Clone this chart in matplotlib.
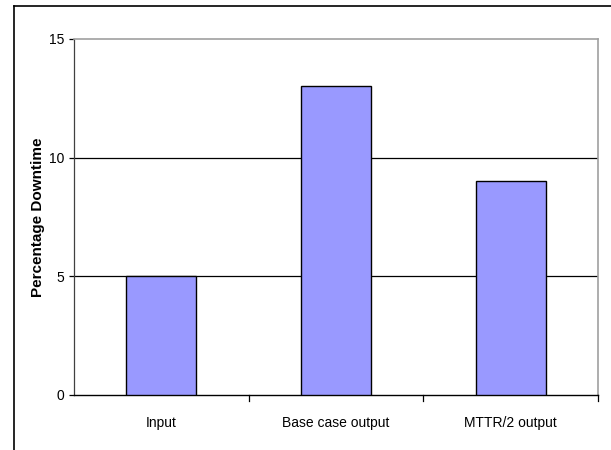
import matplotlib
matplotlib.use("Agg")
import matplotlib.pyplot as plt
from matplotlib.lines import Line2D

categories = ["Input", "Base case output", "MTTR/2 output"]
downtime = [5, 13, 9]
y_ticks = [0, 5, 10, 15]

plt.rcParams["font.family"] = ["Liberation Sans", "DejaVu Sans"]

fig = plt.figure(figsize=(6.11, 4.5), dpi=100)
W, H = 611, 450

# outer chart frame (left and top edges visible)
fig.add_artist(Line2D([13.5 / W, 13.5 / W], [0, 1 - 5.5 / H], color="black", lw=1.2,
                      transform=fig.transFigure))
fig.add_artist(Line2D([13.5 / W, 1], [1 - 5.5 / H, 1 - 5.5 / H], color="black", lw=1.2,
                      transform=fig.transFigure))

ax = fig.add_axes([74 / W, 1 - 395 / H, (598 - 74) / W, (395 - 39) / H])
x = list(range(len(categories)))
ax.bar(x, downtime, width=0.4, color="#9999FF", edgecolor="black", linewidth=1.0, zorder=3)

ax.set_xlim(-0.5, len(categories) - 0.5)
ax.set_ylim(0, 15)
ax.set_yticks(y_ticks)
ax.set_yticklabels([str(t) for t in y_ticks], fontsize=10)
for t in y_ticks[1:-1]:
    ax.axhline(t, color="black", lw=0.9, zorder=1)

ax.set_xticks(x)
ax.set_xticklabels(categories, fontsize=10)
ax.tick_params(axis="x", length=0, pad=15)
# category separator ticks
for b in [0.5, 1.5, 2.5]:
    ax.plot([b, b], [0, -0.25], color="black", lw=0.9, clip_on=False, zorder=4)

ax.tick_params(axis="y", length=3.8, width=0.9, color="black", pad=3)

for side in ["top", "right"]:
    ax.spines[side].set_color("#a0a0a0")
    ax.spines[side].set_linewidth(1.2)
ax.spines["left"].set_color("#404040")
ax.spines["left"].set_linewidth(0.9)
ax.spines["bottom"].set_color("black")
ax.spines["bottom"].set_linewidth(1.0)

ax.set_ylabel("Percentage Downtime", fontsize=11, fontweight="bold", labelpad=3)

fig.savefig("out.png", dpi=100)
